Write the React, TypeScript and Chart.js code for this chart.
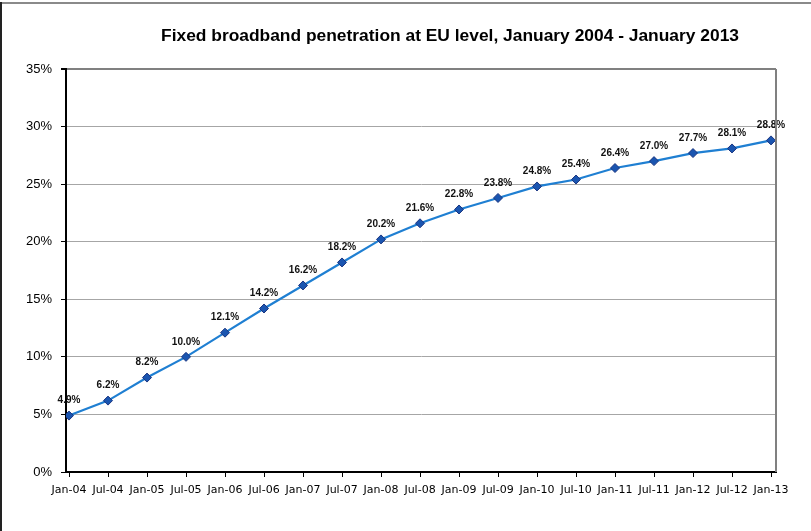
import React, { useEffect, useRef } from "react";
import { Chart, registerables } from "chart.js";

Chart.register(...registerables);

const TITLE = "Fixed broadband penetration at EU level, January 2004 - January 2013";
const categories = [
  "Jan-04", "Jul-04", "Jan-05", "Jul-05", "Jan-06", "Jul-06", "Jan-07", "Jul-07",
  "Jan-08", "Jul-08", "Jan-09", "Jul-09", "Jan-10", "Jul-10", "Jan-11", "Jul-11",
  "Jan-12", "Jul-12", "Jan-13",
];
const penetration = [
  4.9, 6.2, 8.2, 10.0, 12.1, 14.2, 16.2, 18.2, 20.2, 21.6, 22.8, 23.8, 24.8, 25.4,
  26.4, 27.0, 27.7, 28.1, 28.8,
];
const yTicks = [0, 5, 10, 15, 20, 25, 30, 35];

const W = 811;
const H = 531;

const decorPlugin = {
  id: "decor",
  afterDraw(chart: any) {
    const ctx = chart.ctx;
    const a = chart.chartArea;
    ctx.save();
    // outer frame fragments
    ctx.fillStyle = "#8a8a8a";
    ctx.fillRect(0, 2, W, 2);
    ctx.fillStyle = "#222222";
    ctx.fillRect(0, 2, 2, H);
    // right plot border
    ctx.fillStyle = "#808080";
    ctx.fillRect(a.right - 1, a.top, 2, a.bottom - a.top);
    // title
    ctx.fillStyle = "#000";
    ctx.font = "bold 17.4px 'Liberation Sans', Arial, sans-serif";
    ctx.textAlign = "center";
    ctx.textBaseline = "alphabetic";
    ctx.fillText(TITLE, 450, 41);
    ctx.restore();
  },
  afterDatasetsDraw(chart: any) {
    const ctx = chart.ctx;
    const meta = chart.getDatasetMeta(0);
    ctx.save();
    ctx.fillStyle = "#111";
    ctx.font = "bold 10px 'Liberation Sans', Arial, sans-serif";
    ctx.textAlign = "center";
    ctx.textBaseline = "middle";
    meta.data.forEach((el: any, i: number) => {
      ctx.fillText(penetration[i].toFixed(1) + "%", el.x, el.y - 15);
    });
    ctx.restore();
  },
};

export default function App() {
  const ref = useRef<HTMLCanvasElement | null>(null);

  useEffect(() => {
    if (!ref.current) return;
    const chart = new Chart(ref.current, {
      type: "line",
      data: {
        datasets: [
          {
            data: penetration.map((v, i) => ({ x: i, y: v })),
            borderColor: "#1f7fd2",
            borderWidth: 2.2,
            pointStyle: "rectRot",
            pointRadius: 4.5,
            pointBackgroundColor: "#1a55b0",
            pointBorderColor: "#1a3580",
            pointBorderWidth: 1,
            tension: 0,
          },
        ],
      },
      options: {
        responsive: false,
        animation: false,
        events: [],
        layout: { padding: { left: 0, right: W - 776, top: 69, bottom: 0 } },
        plugins: {
          legend: { display: false },
          tooltip: { enabled: false },
          title: { display: false },
        },
        scales: {
          x: {
            type: "linear",
            min: -0.077,
            max: 18.128,
            afterBuildTicks: (scale: any) => {
              scale.ticks = categories.map((_, i) => ({ value: i }));
            },
            afterFit: (scale: any) => {
              scale.height = H - 472;
            },
            ticks: {
              autoSkip: false,
              maxRotation: 0,
              minRotation: 0,
              padding: 7,
              color: "#000",
              font: { family: "'DejaVu Sans', sans-serif", size: 11 },
              callback: (v: any) => categories[Math.round(Number(v))] ?? "",
            },
            grid: {
              drawOnChartArea: false,
              drawTicks: true,
              tickLength: 5,
              tickColor: "#000",
              tickWidth: 1,
            },
            border: { color: "#000", width: 2 },
          },
          y: {
            min: 0,
            max: 35,
            afterBuildTicks: (scale: any) => {
              scale.ticks = yTicks.map((v) => ({ value: v }));
            },
            afterFit: (scale: any) => {
              scale.width = 66;
            },
            ticks: {
              padding: 9,
              color: "#000",
              font: { family: "'Liberation Sans', Arial, sans-serif", size: 13 },
              callback: (v: any) => v + "%",
            },
            grid: {
              color: (c: any) => (c.tick && c.tick.value === 35 ? "#808080" : "#a6a6a6"),
              lineWidth: (c: any) => (c.tick && c.tick.value === 35 ? 2 : 1),
              tickLength: 5,
              tickColor: "#000",
            },
            border: { color: "#000", width: 2 },
          },
        },
      },
      plugins: [decorPlugin],
    } as any);
    return () => chart.destroy();
  }, []);

  return (
    <div style={{ position: "absolute", left: 0, top: 0, width: W, height: H, background: "#fff" }}>
      <canvas ref={ref} width={W} height={H} style={{ display: "block" }} />
    </div>
  );
}
